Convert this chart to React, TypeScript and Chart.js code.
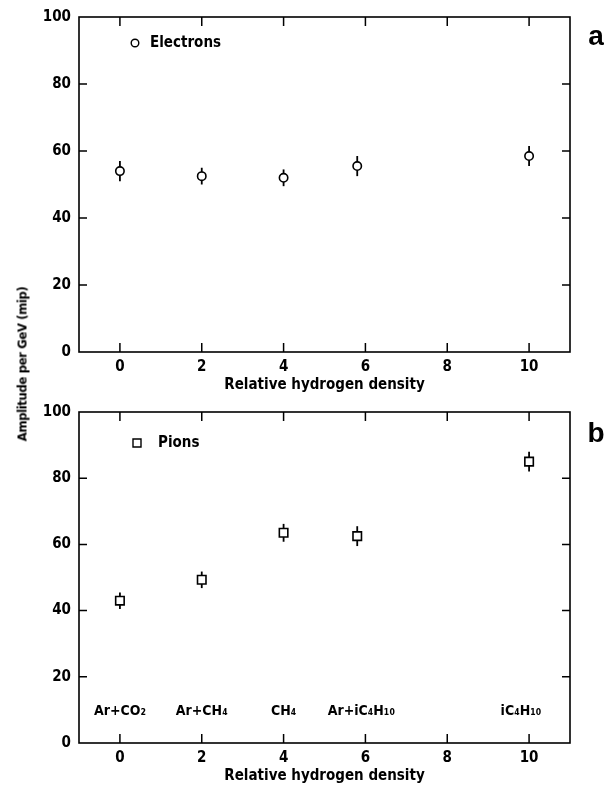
import React, { useEffect, useRef } from "react";
import { Chart, registerables } from "chart.js";

Chart.register(...registerables);

// Relative hydrogen density of each gas mixture
const hydrogenDensity = [0, 2, 4, 5.8, 10];

// Panel a: electrons
const electronAmplitude = [54, 52.5, 52, 55.5, 58.5];
const electronError = [3, 2.5, 2.5, 3, 3];

// Panel b: pions
const pionAmplitude = [43, 49.3, 63.5, 62.5, 85];
const pionError = [2.5, 2.5, 2.7, 3, 3];

// Gas mixture names written along the bottom of panel b
const gasNames = ["Ar+CO₂", "Ar+CH₄", "CH₄", "Ar+iC₄H₁₀", "iC₄H₁₀"];
const gasLabelX = [0, 2, 4, 5.9, 9.8];
const gasLabelY = 9.6;

const xTicks = [0, 2, 4, 6, 8, 10];
const yTicks = [0, 20, 40, 60, 80, 100];

const FONT = '"DejaVu Sans Condensed", "DejaVu Sans", sans-serif';

// Closed frame with inward tick marks on all four sides
const framePlugin = {
  id: "frame",
  afterDraw(chart: any) {
    const { ctx, chartArea: a, scales } = chart;
    const xs = scales.x;
    const ys = scales.y;
    ctx.save();
    ctx.strokeStyle = "#000";
    ctx.lineWidth = 1.6;
    ctx.strokeRect(a.left, a.top, a.right - a.left, a.bottom - a.top);
    ctx.lineWidth = 1.5;
    ctx.beginPath();
    xTicks.forEach((v) => {
      const px = xs.getPixelForValue(v);
      ctx.moveTo(px, a.bottom);
      ctx.lineTo(px, a.bottom - 9);
      ctx.moveTo(px, a.top);
      ctx.lineTo(px, a.top + 9);
    });
    yTicks.forEach((v) => {
      if (v <= ys.min || v >= ys.max) return;
      const py = ys.getPixelForValue(v);
      ctx.moveTo(a.left, py);
      ctx.lineTo(a.left + 8, py);
      ctx.moveTo(a.right, py);
      ctx.lineTo(a.right - 8, py);
    });
    ctx.stroke();
    ctx.restore();
  },
};

// Vertical error bars behind each marker
const errorBarPlugin = {
  id: "errorBars",
  beforeDatasetsDraw(chart: any) {
    const { ctx, scales } = chart;
    ctx.save();
    ctx.strokeStyle = "#000";
    ctx.lineWidth = 1.8;
    chart.data.datasets.forEach((ds: any) => {
      const errs: number[] = ds.errors || [];
      ds.data.forEach((p: any, i: number) => {
        const e = errs[i];
        if (e == null) return;
        const px = scales.x.getPixelForValue(p.x);
        ctx.beginPath();
        ctx.moveTo(px, scales.y.getPixelForValue(p.y - e));
        ctx.lineTo(px, scales.y.getPixelForValue(p.y + e));
        ctx.stroke();
      });
    });
    ctx.restore();
  },
};

// Legend entry, panel letter and free text labels
const annotatePlugin = {
  id: "annotate",
  afterDraw(chart: any, _args: any, opts: any) {
    const { ctx, chartArea: a, scales } = chart;
    ctx.save();
    ctx.fillStyle = "#000";
    ctx.strokeStyle = "#000";
    ctx.lineWidth = 1.4;

    // legend
    const lx = a.left + opts.legendDx;
    const ly = a.top + opts.legendDy;
    ctx.beginPath();
    if (opts.legendSymbol === "circle") {
      ctx.arc(lx, ly, 3.8, 0, Math.PI * 2);
    } else {
      ctx.rect(lx - 4, ly - 4, 8, 8);
    }
    ctx.stroke();
    ctx.font = `bold 15px ${FONT}`;
    ctx.textAlign = "left";
    ctx.textBaseline = "middle";
    ctx.fillText(opts.legendText, lx + opts.legendGap, ly);

    // panel letter
    ctx.font = 'bold 28px "Liberation Sans", Arial, sans-serif';
    ctx.textAlign = "center";
    ctx.textBaseline = "alphabetic";
    ctx.fillText(opts.letter, a.right + 26, a.top + opts.letterDy);

    // gas names
    if (opts.gasLabels) {
      ctx.font = `bold 14px ${FONT}`;
      ctx.textAlign = "center";
      ctx.textBaseline = "middle";
      gasNames.forEach((name, i) => {
        ctx.fillText(
          name,
          scales.x.getPixelForValue(gasLabelX[i]),
          scales.y.getPixelForValue(gasLabelY)
        );
      });
    }
    ctx.restore();
  },
};

function makeConfig(p: {
  values: number[];
  errors: number[];
  pointStyle: string;
  radius: number;
  padTop: number;
  xHeight: number;
  titlePadBottom: number;
  annotate: any;
}): any {
  return {
    type: "scatter",
    data: {
      datasets: [
        {
          data: hydrogenDensity.map((x, i) => ({ x, y: p.values[i] })),
          errors: p.errors,
          pointStyle: p.pointStyle,
          pointRadius: p.radius,
          pointHoverRadius: p.radius,
          pointBackgroundColor: "#fff",
          pointBorderColor: "#000",
          pointBorderWidth: 1.6,
          showLine: false,
        },
      ],
    },
    options: {
      animation: false,
      responsive: false,
      devicePixelRatio: 1,
      layout: { padding: { top: p.padTop, right: 36, left: 0, bottom: 0 } },
      plugins: {
        legend: { display: false },
        tooltip: { enabled: false },
        annotate: p.annotate,
      },
      scales: {
        x: {
          type: "linear",
          min: -1,
          max: 11,
          grid: { display: false, drawTicks: false },
          border: { display: false },
          afterBuildTicks: (s: any) => {
            s.ticks = xTicks.map((value) => ({ value }));
          },
          afterFit: (s: any) => {
            s.height = p.xHeight;
          },
          ticks: {
            color: "#000",
            padding: 6,
            maxRotation: 0,
            font: { family: FONT, size: 15, weight: "bold" },
          },
          title: {
            display: true,
            text: "Relative hydrogen density",
            color: "#000",
            padding: { top: 0, bottom: p.titlePadBottom },
            font: { family: FONT, size: 15, weight: "bold" },
          },
        },
        y: {
          type: "linear",
          min: 0,
          max: 100,
          grid: { display: false, drawTicks: false },
          border: { display: false },
          afterBuildTicks: (s: any) => {
            s.ticks = yTicks.map((value) => ({ value }));
          },
          afterFit: (s: any) => {
            s.width = 79;
          },
          ticks: {
            color: "#000",
            padding: 8,
            font: { family: FONT, size: 15, weight: "bold" },
          },
        },
      },
    },
    plugins: [errorBarPlugin, framePlugin, annotatePlugin],
  };
}

function Panel(props: { config: any; top: number; height: number }) {
  const ref = useRef<HTMLCanvasElement | null>(null);
  useEffect(() => {
    if (!ref.current) return;
    const chart = new Chart(ref.current, props.config);
    return () => chart.destroy();
  }, []);
  return (
    <canvas
      ref={ref}
      width={606}
      height={props.height}
      style={{ position: "absolute", left: 0, top: props.top, width: 606, height: props.height, display: "block" }}
    />
  );
}

export default function App() {
  const electronsConfig = makeConfig({
    values: electronAmplitude,
    errors: electronError,
    pointStyle: "circle",
    radius: 4.2,
    padTop: 15,
    xHeight: 43,
    titlePadBottom: 1,
    annotate: {
      legendSymbol: "circle",
      legendText: "Electrons",
      legendDx: 56,
      legendDy: 26,
      legendGap: 15,
      letter: "a",
      letterDy: 28,
      gasLabels: false,
    },
  });
  const pionsConfig = makeConfig({
    values: pionAmplitude,
    errors: pionError,
    pointStyle: "rect",
    radius: 6,
    padTop: 16,
    xHeight: 46,
    titlePadBottom: 4,
    annotate: {
      legendSymbol: "rect",
      legendText: "Pions",
      legendDx: 58,
      legendDy: 31,
      legendGap: 21,
      letter: "b",
      letterDy: 30,
      gasLabels: true,
    },
  });

  return (
    <div style={{ position: "absolute", left: 0, top: 0, width: 606, height: 789, background: "#fff" }}>
      <Panel config={electronsConfig} top={0} height={395} />
      <Panel config={pionsConfig} top={395} height={394} />
      <div
        style={{
          position: "absolute",
          left: 22,
          top: 364,
          transform: "translate(-50%, -50%) rotate(-90deg)",
          whiteSpace: "nowrap",
          font: `bold 13px ${FONT}`,
          letterSpacing: "-0.4px",
          color: "#000",
        }}
      >
        Amplitude per GeV (mip)
      </div>
    </div>
  );
}
